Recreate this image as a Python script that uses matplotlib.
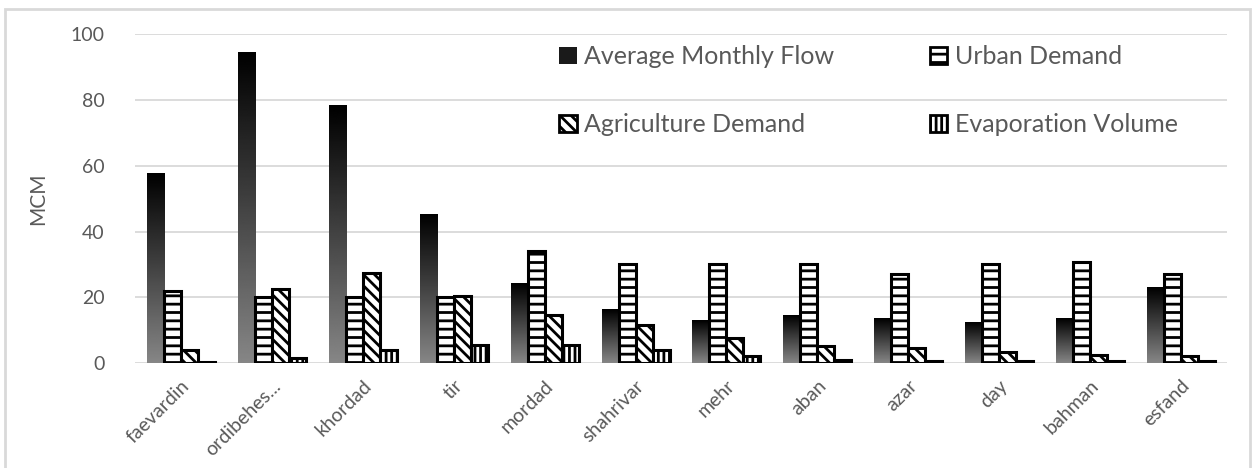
import matplotlib.pyplot as plt
import numpy as np
from matplotlib.patches import Rectangle, Patch

plt.rcParams['font.family'] = ['Lato', 'DejaVu Sans']
plt.rcParams['hatch.linewidth'] = 2.0
plt.rcParams['hatch.color'] = 'black'

months = ['faevardin', 'ordibehes...', 'khordad', 'tir', 'mordad', 'shahrivar',
          'mehr', 'aban', 'azar', 'day', 'bahman', 'esfand']
flow = [57.5, 94.5, 78.3, 45.2, 24.2, 16.4, 12.9, 14.4, 13.4, 12.4, 13.4, 22.9]
urban = [22.0, 20.1, 20.1, 20.1, 34.0, 30.1, 30.1, 30.1, 27.0, 30.1, 30.9, 27.0]
agri = [4.0, 22.5, 27.5, 20.5, 14.6, 11.6, 7.6, 5.3, 4.6, 3.3, 2.6, 2.2]
evap = [0.5, 1.5, 3.9, 5.6, 5.6, 3.9, 2.1, 1.0, 0.8, 0.8, 0.7, 0.7]

fig = plt.figure(figsize=(12.53, 4.68), dpi=100)
ax = fig.add_axes([0.108, 0.224, 0.871, 0.703])

x = np.arange(len(months))
w = 0.187
grey = '#595959'

# gradient bars (black top -> grey bottom)
grad = np.linspace(0, 1, 256).reshape(-1, 1)
for xi, v in zip(x, flow):
    x0 = xi - 1.5 * w - w / 2
    ax.imshow(grad, extent=[x0, x0 + w, 0, v], aspect='auto',
              cmap='gray', vmin=0, vmax=1.9, origin='upper', zorder=3,
              interpolation='bilinear')

ax.bar(x - 0.5 * w, urban, w, color='white', edgecolor='black',
       linewidth=2.2, hatch='--', zorder=3)
ax.bar(x + 0.5 * w, agri, w, color='white', edgecolor='black',
       linewidth=2.2, hatch='\\\\\\', zorder=3)
ax.bar(x + 1.5 * w, evap, w, color='white', edgecolor='black',
       linewidth=2.2, hatch='|||', zorder=3)

ax.set_xlim(-0.5, len(months) - 0.5)
ax.set_ylim(0, 100)
ax.set_yticks([0, 20, 40, 60, 80, 100])
ax.yaxis.grid(True, color='#d9d9d9', linewidth=1.3, zorder=0)
ax.set_axisbelow(True)
for s in ax.spines.values():
    s.set_visible(False)
ax.tick_params(length=0, colors=grey)
ax.tick_params(axis='y', pad=22, labelsize=14)
ax.tick_params(axis='x', pad=10, labelsize=14)
ax.set_xticks(x)
ax.set_xticklabels(months, rotation=45, ha='right', rotation_mode='anchor')
ax.set_ylabel('MCM', color=grey, fontsize=15, labelpad=16)

handles = [
    Patch(facecolor='#1a1a1a', edgecolor='none', label='Average Monthly Flow'),
    Patch(facecolor='white', edgecolor='black', hatch='\\\\\\', linewidth=2, label='Agriculture Demand'),
    Patch(facecolor='white', edgecolor='black', hatch='--', linewidth=2, label='Urban Demand'),
    Patch(facecolor='white', edgecolor='black', hatch='|||', linewidth=2, label='Evaporation Volume'),
]
leg = ax.legend(handles=handles, ncol=2, loc='upper left',
                bbox_to_anchor=(0.368, 1.035), frameon=False,
                fontsize=18, handlelength=0.7, handleheight=0.7,
                handletextpad=0.3, labelspacing=1.8, columnspacing=3.8)
for t in leg.get_texts():
    t.set_color(grey)

# light frame around the figure
fig.patches.append(Rectangle((5 / 1253, -0.05), 1245 / 1253, 1 - 9 / 468 + 0.05,
                             transform=fig.transFigure, fill=False,
                             edgecolor='#d9d9d9', linewidth=2))

fig.savefig('out.png', dpi=100)
